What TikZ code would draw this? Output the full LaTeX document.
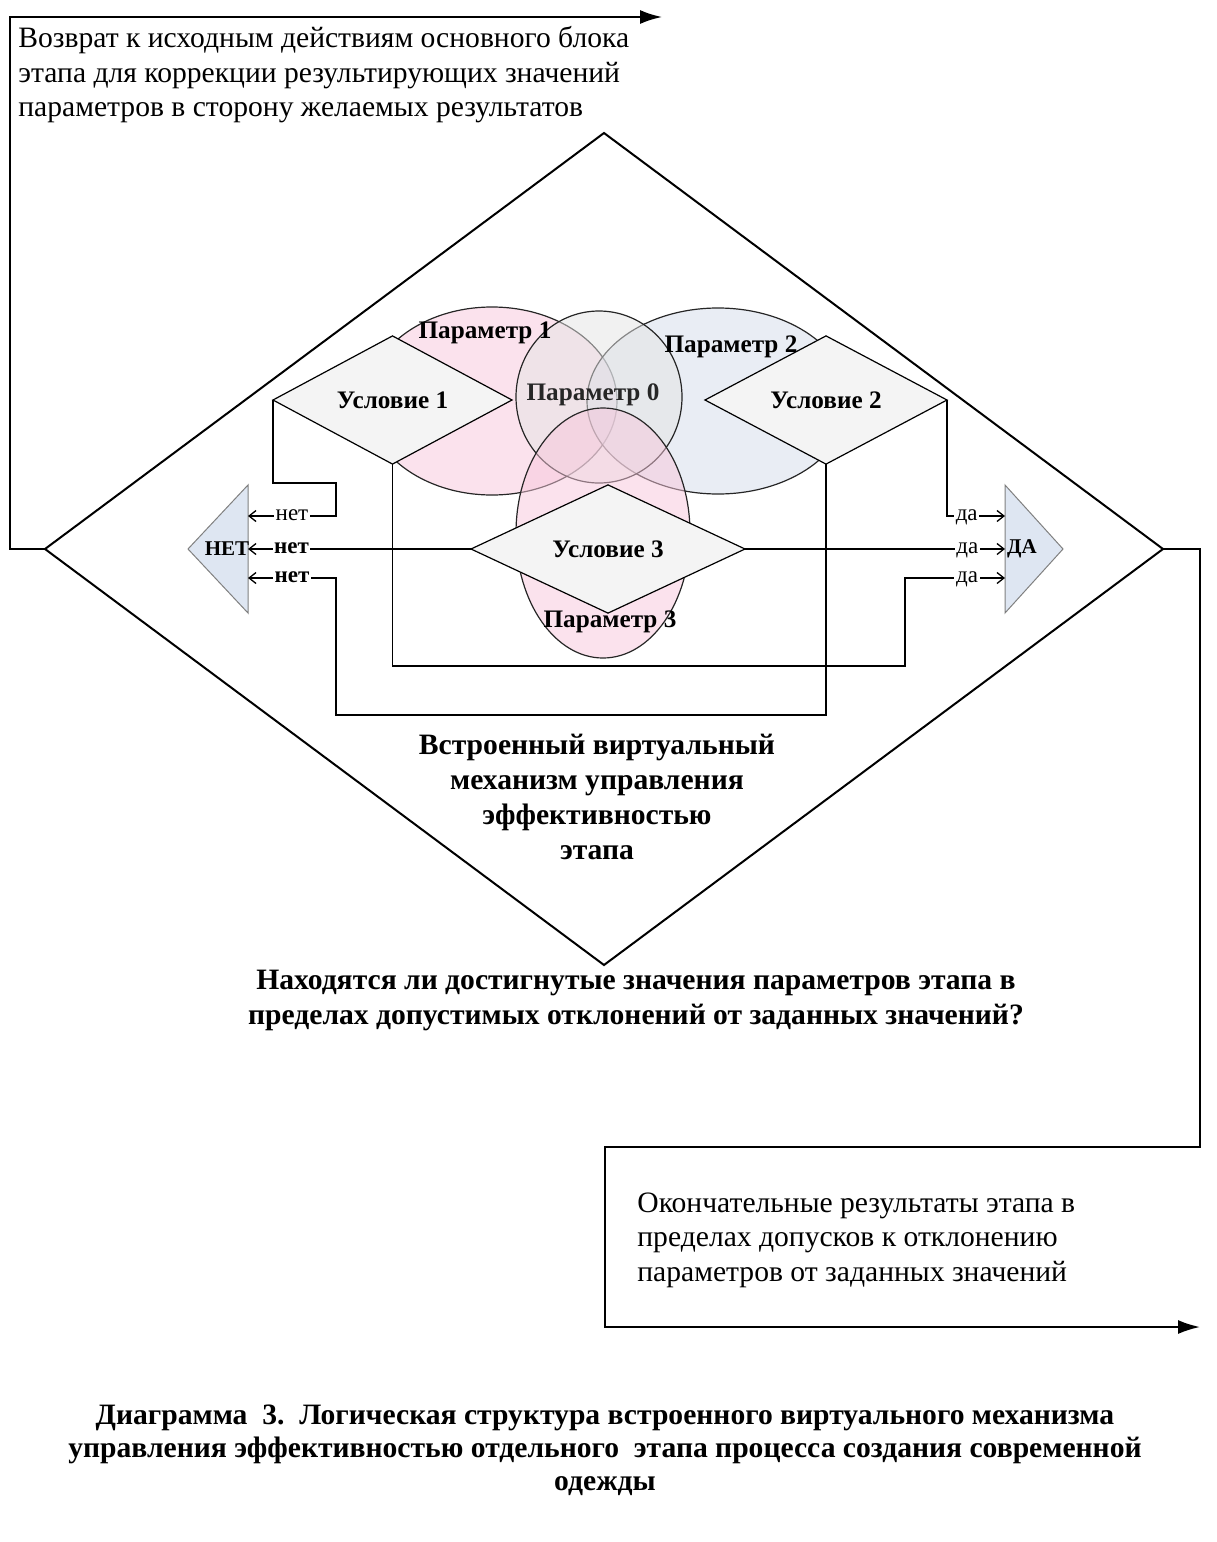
\documentclass[tikz,border=0pt]{standalone}
\usepackage{fontspec}
\setmainfont{Liberation Serif}
\usetikzlibrary{shapes.geometric,arrows.meta}

\definecolor{pinkfill}{HTML}{F7C6DB}
\definecolor{bluefill}{HTML}{D3DBE9}
\definecolor{greyfill}{HTML}{E4E4E4}
\definecolor{condfill}{HTML}{F4F4F4}
\definecolor{trifill}{HTML}{DEE6F2}

\def\nettriangle{(188,549) -- (248,485) -- (248,613) -- cycle}
\def\datriangle{(1063,549) -- (1005,485) -- (1005,613) -- cycle}

\tikzset{
  param/.style={ellipse, draw=black!85, line width=0.6pt, fill opacity=0.5, inner sep=0pt, outer sep=0pt},
  cond/.style={diamond, draw=black, line width=0.6pt, fill=condfill, inner sep=0pt, outer sep=0pt,
    font=\fontsize{12.6}{14}\selectfont\bfseries},
  plabel/.style={font=\fontsize{12.6}{14}\selectfont\bfseries, inner sep=0pt},
  tri/.style={draw=black!50, line width=0.5pt, fill=trifill},
  trilabel/.style={font=\fontsize{10.5}{12}\selectfont\bfseries, inner sep=0pt},
  link/.style={line width=0.65pt, -{Straight Barb[length=3.5pt,width=5.5pt]}},
  lbl/.style={fill=white, inner sep=0.8pt, text height=1ex, text depth=0pt, font=\fontsize{11.5}{12}\selectfont},
  lblb/.style={lbl, font=\fontsize{11.5}{12}\selectfont\bfseries},
  flow/.style={line width=1pt, -{Latex[length=11pt,width=7pt]}},
  bigtext/.style={font=\fontsize{14.8}{17.3}\selectfont, inner sep=0pt},
  bigbold/.style={font=\fontsize{14.8}{17.5}\selectfont\bfseries, inner sep=0pt},
  capt/.style={font=\fontsize{14.8}{16.5}\selectfont\bfseries, inner sep=0pt}
}

\begin{document}
\begin{tikzpicture}[x=0.5pt, y=-0.5pt]
  \useasboundingbox (0,0) rectangle (1216,1542);

  % outer decision block
  \node[diamond, draw, line width=1pt, minimum width=559pt, minimum height=416pt,
    inner sep=0pt, outer sep=0pt] (main) at (604,549) {};

  % parameters
  \node[param, fill=pinkfill, minimum width=125pt, minimum height=94pt] (p1) at (492,401) {};
  \node[param, fill=bluefill, minimum width=131pt, minimum height=93pt] (p2) at (718,401) {};
  \node[param, fill=greyfill, minimum width=83pt, minimum height=86pt] (p0) at (599,397) {};
  \node[param, fill=pinkfill, minimum width=87pt, minimum height=125pt] (p3) at (603,533) {};

  % conditions
  \node[cond, minimum width=119.5pt, minimum height=57pt] (c1) at (392.5,400) {Условие 1};
  \node[cond, minimum width=121pt, minimum height=57pt] (c2) at (826,400) {Условие 2};
  \node[cond, minimum width=137pt, minimum height=56pt] (c3) at (608,549) {Условие 3};

  \node[plabel] (p1txt) at (485,333) {Параметр 1};
  \node[plabel] (p2txt) at (731,347) {Параметр 2};
  \node[plabel, text=black!85] (p0txt) at (593,395) {Параметр 0};
  \node[plabel] (p3txt) at (610,622) {Параметр 3};

  % outputs
  \draw[tri] \nettriangle;
  \draw[tri] \datriangle;
  \node[trilabel] (net) at (227,549) {НЕТ};
  \node[trilabel] (da) at (1022,549) {ДА};

  \coordinate (net1) at (248,516);
  \coordinate (net2) at (248,549);
  \coordinate (net3) at (248,578);
  \coordinate (da1) at (1005,516);
  \coordinate (da2) at (1005,549);
  \coordinate (da3) at (1005,578);

  \draw[link] (c1.west) |- (336,483) |- node[lbl, pos=0.75] {нет} (net1);
  \draw[link] (c3.west) -- node[lblb, pos=0.805] {нет} (net2);
  \draw[link] (c2.south) |- (336,715) |- node[lblb, pos=0.75] {нет} (net3);
  \draw[link] (c2.east) |- node[lbl, pos=0.67] {да} (da1);
  \draw[link] (c3.east) -- node[lbl, pos=0.855] {да} (da2);
  \draw[link] (c1.south) |- (905,666) |- node[lbl, pos=0.81] {да} (da3);

  % return and exit
  \coordinate (back) at (662,17);
  \coordinate (out) at (1200,1327);
  \draw[flow] (main.west) -- (10,549) -- (10,17) -- (back);
  \draw[flow] (main.east) -- (1200,549) -- (1200,1147) -- (605,1147) -- (605,1327) -- (out);

  \node[bigtext, anchor=north west, align=left] (backtxt) at (18,26)
    {Возврат к исходным действиям основного блока\\этапа для коррекции результирующих значений\\параметров в сторону желаемых результатов};
  \node[bigbold, align=center] (mech) at (597,797)
    {Встроенный виртуальный\\механизм управления\\эффективностью\\этапа};
  \node[bigbold, align=center] (question) at (636,1000)
    {Находятся ли достигнутые значения параметров этапа в\\пределах допустимых отклонений от заданных значений?};
  \node[bigtext, anchor=west, align=left] (result) at (637,1240)
    {Окончательные результаты этапа в\\пределах допусков к отклонению\\параметров от заданных значений};
  \node[capt, align=center] (caption) at (605,1450)
    {Диаграмма\ \ 3.\ \ Логическая структура встроенного виртуального механизма\\управления эффективностью отдельного\ \ этапа процесса создания современной\\одежды};
\end{tikzpicture}
\end{document}
